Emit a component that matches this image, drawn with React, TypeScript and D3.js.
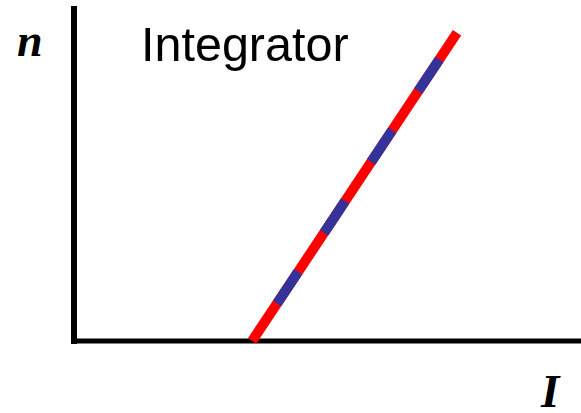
import React from "react";
import * as d3 from "d3";

const W = 581;
const H = 413;

// Data: firing rate n versus input current I (integrator: threshold-linear)
const currentI = [3.5, 7.55];
const rateN = [0, 9.2];
const title = "Integrator";
const xLabel = "I";
const yLabel = "n";

export default function App() {
  const x = d3.scaleLinear().domain([0, 10]).range([75, 581]);
  const y = d3.scaleLinear().domain([0, 10]).range([341, 6]);

  const pts: [number, number][] = currentI.map((v, i) => [v, rateN[i]]);
  // draw from top to bottom so the dash pattern starts at the upper end
  const ptsTopDown = [...pts].reverse();
  const line = d3
    .line<[number, number]>()
    .x((d) => x(d[0]))
    .y((d) => y(d[1]));
  const d = line(ptsTopDown) || "";

  const x0 = x(0);
  const y0 = y(0);

  return (
    <svg
      width={W}
      height={H}
      style={{ position: "absolute", left: 0, top: 0, background: "#fff" }}
    >
      {/* axes */}
      <line x1={x0 - 1} y1={y(10)} x2={x0 - 1} y2={y0 + 3} stroke="#000" strokeWidth={6} />
      <line x1={x0 - 4} y1={y0} x2={W} y2={y0} stroke="#000" strokeWidth={5} />

      {/* response line */}
      <path d={d} stroke="#ff0000" strokeWidth={10} fill="none" strokeLinecap="butt" />
      <path
        d={d}
        stroke="#333399"
        strokeWidth={10}
        fill="none"
        strokeLinecap="butt"
        strokeDasharray="38 47"
        strokeDashoffset={53}
      />

      {/* labels */}
      <text
        x={141}
        y={61}
        fontFamily="Liberation Sans, Arial, sans-serif"
        fontSize={48.5}
        fill="#000"
      >
        {title}
      </text>
      <text
        x={17}
        y={56}
        fontFamily="Liberation Serif, Times New Roman, serif"
        fontStyle="italic"
        fontWeight="bold"
        fontSize={46}
        fill="#000"
      >
        {yLabel}
      </text>
      <text
        x={541}
        y={407}
        fontFamily="Liberation Serif, Times New Roman, serif"
        fontStyle="italic"
        fontWeight="bold"
        fontSize={47}
        fill="#000"
      >
        {xLabel}
      </text>
    </svg>
  );
}
